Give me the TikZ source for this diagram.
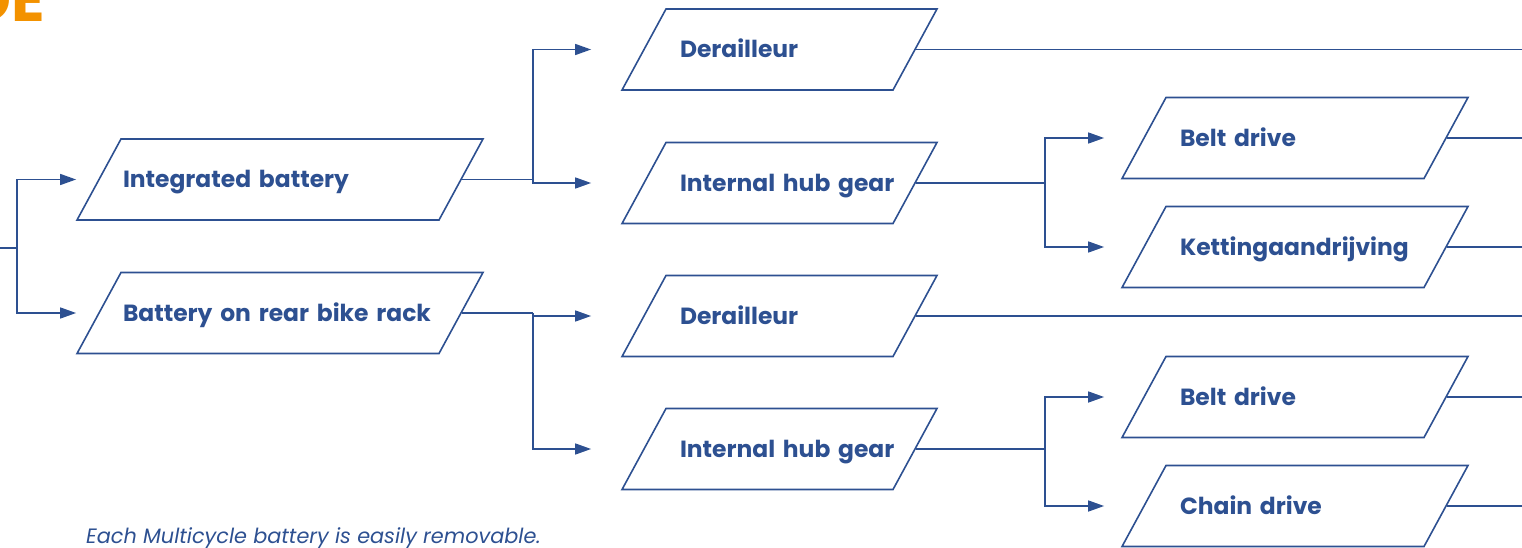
\documentclass[tikz,border=0pt]{standalone}
\usepackage{fontspec}
\setmainfont{Poppins}
\usetikzlibrary{shapes.geometric, arrows.meta}
\definecolor{mcblue}{RGB}{45,80,145}
\definecolor{mcorange}{RGB}{243,146,0}
\tikzset{
    > = {Triangle[length = 16pt, width = 11pt]},
    link/.style = {draw = mcblue, line width = 1.6pt},
    arrow/.style = {link, ->},
    choice/.style = {trapezium, trapezium left angle = 61.5, trapezium right angle = 118.5,
        draw = mcblue, line width = 1.6pt, text = mcblue, font = \fontsize{23.4}{26}\bfseries,
        text height = 17pt, text depth = 0pt, inner ysep = 32pt, align = left,
        execute at begin node = {\hbox\bgroup}, execute at end node = {\egroup}},
    outer/.style = {choice, inner xsep = 2pt, text width = 314pt},
    middle/.style = {choice, inner xsep = 14pt, text width = 199pt},
    inner/.style = {choice, inner xsep = 14pt, text width = 230pt}
}

\begin{document}
\begin{tikzpicture}[x = 1pt, y = -1pt]
    \useasboundingbox (0, 0) rectangle (1522, 548);

    \node[anchor = base east, text = mcorange, font = \fontsize{62}{62}\bfseries, inner sep = 0pt] (title) at (45, 22) {DE};

    \node[outer] (ib) at (280, 179.5) {Integrated battery};
    \node[outer] (rr) at (280, 313) {Battery on rear bike rack};

    \node[middle] (der1) at (779.5, 49.5) {Derailleur};
    \node[middle] (ihg1) at (779.5, 183) {Internal hub gear};
    \node[middle] (der2) at (779.5, 316) {Derailleur};
    \node[middle] (ihg2) at (779.5, 449) {Internal hub gear};

    \node[inner] (bd1) at (1295, 138) {Belt drive};
    \node[inner] (ket) at (1295, 247) {Kettingaandrijving};
    \node[inner] (bd2) at (1295, 397) {Belt drive};
    \node[inner] (cd) at (1295, 506) {Chain drive};

    \node[anchor = base west, text = mcblue, font = \fontsize{20.8}{24}\itshape, inner sep = 0pt] (note) at (86, 543) {Each Multicycle battery is easily removable.};

    \coordinate (start) at (0, 248);
    \coordinate (edge) at (1522, 0);

    % battery position
    \draw[link] (start) -- ++(17, 0) coordinate (s0);
    \draw[arrow] (s0) |- ([xshift = -22pt]ib.west);
    \draw[arrow] (s0) |- ([xshift = -22pt]rr.west);

    % gear type
    \draw[link] (ib.east) -- (533, 0 |- ib.east) coordinate (s1);
    \draw[arrow] (s1) |- ([xshift = -52pt]der1.west);
    \draw[arrow] (s1) |- ([xshift = -52pt]ihg1.west);
    \draw[link] (rr.east) -- (533, 0 |- rr.east) coordinate (s2);
    \draw[arrow] (s2) |- ([xshift = -52pt]der2.west);
    \draw[arrow] (s2) |- ([xshift = -52pt]ihg2.west);

    % drive type
    \draw[link] (ihg1.east) -- (1045, 0 |- ihg1.east) coordinate (s3);
    \draw[arrow] (s3) |- ([xshift = -39pt]bd1.west);
    \draw[arrow] (s3) |- ([xshift = -39pt]ket.west);
    \draw[link] (ihg2.east) -- (1045, 0 |- ihg2.east) coordinate (s4);
    \draw[arrow] (s4) |- ([xshift = -39pt]bd2.west);
    \draw[arrow] (s4) |- ([xshift = -39pt]cd.west);

    % outputs
    \draw[link] (der1.east) -- (der1.east -| edge);
    \draw[link] (der2.east) -- (der2.east -| edge);
    \draw[link] (bd1.east) -- (bd1.east -| edge);
    \draw[link] (ket.east) -- (ket.east -| edge);
    \draw[link] (bd2.east) -- (bd2.east -| edge);
    \draw[link] (cd.east) -- (cd.east -| edge);
\end{tikzpicture}
\end{document}
